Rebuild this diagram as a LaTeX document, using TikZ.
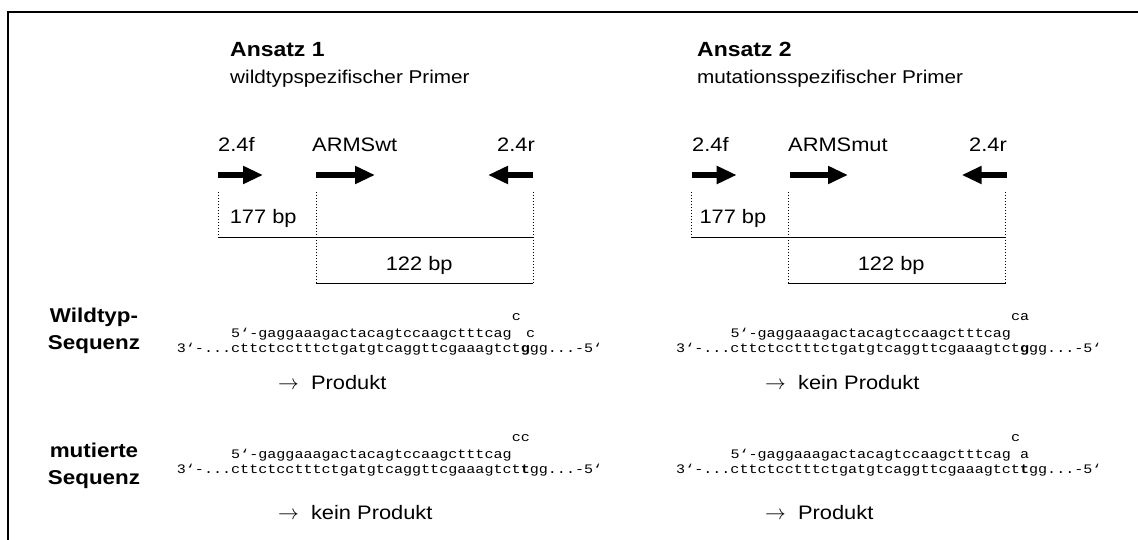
\documentclass[tikz,border=0pt]{standalone}
\usepackage{fontspec}
\setmainfont[FakeStretch=1.12]{Liberation Sans}
\newfontfamily\seqfont[FakeStretch=1.16]{Liberation Mono}
\usetikzlibrary{arrows.meta}
\begin{document}
\begin{tikzpicture}[x=1pt,y=-1pt,
  lbl/.style={inner sep=0, anchor=base west, font=\fontsize{19.5}{23}\selectfont},
  lble/.style={inner sep=0, anchor=base east, font=\fontsize{19.5}{23}\selectfont},
  head/.style={inner sep=0, anchor=base west, font=\bfseries\fontsize{20.5}{24}\selectfont},
  sub/.style={inner sep=0, anchor=base west, font=\fontsize{18.5}{22}\selectfont},
  side/.style={inner sep=0, align=center, font=\bfseries\fontsize{20}{27}\selectfont},
  seq/.style={inner sep=0, anchor=base west, font=\seqfont\fontsize{13}{16}\selectfont},
  res/.style={inner sep=0, anchor=base west, font=\fontsize{19.5}{23}\selectfont},
  primer/.style={line width=6pt, -{Triangle[length=20pt,width=17pt]}},
  dots/.style={dotted, line width=1pt},
  bar/.style={line width=1.3pt}
]
\useasboundingbox (0,0) rectangle (1138,540);
\fill[white] (0,0) rectangle (1138,540);
% frame
\coordinate (fb) at (8,545);
\coordinate (fc) at (8,12);
\coordinate (fr) at (1145,12);
\draw[line width=2.6pt] (fb) -- (fc) -- (fr);

% ---------- headings ----------
\node[head] (a1) at (230,57) {Ansatz 1};
\node[sub]  (s1) at (230,84) {wildtypspezifischer Primer};
\node[head] (a2) at (697,57) {Ansatz 2};
\node[sub]  (s2) at (697,84) {mutationsspezifischer Primer};

% ---------- left scheme ----------
\node[lbl]  (f1) at (218,152) {2.4f};
\node[lbl]  (w1) at (312,152) {ARMSwt};
\node[lble] (r1) at (535,152) {2.4r};
\coordinate (f1s) at (218,175); \coordinate (f1e) at (263,175);
\coordinate (w1s) at (316,175); \coordinate (w1e) at (375,175);
\coordinate (r1s) at (533,175); \coordinate (r1e) at (488,175);
\draw[primer] (f1s) -- (f1e);
\draw[primer] (w1s) -- (w1e);
\draw[primer] (r1s) -- (r1e);
\coordinate (d1a) at (218,192); \coordinate (d1b) at (218,237.3);
\coordinate (d2a) at (316,192); \coordinate (d2b) at (316,283.3);
\coordinate (d3a) at (533,192); \coordinate (d3b) at (533,283.3);
\coordinate (l1e) at (533,237.3); \coordinate (l2s) at (316,283.3);
\draw[dots] (d1a) -- (d1b);
\draw[dots] (d2a) -- (d2b);
\draw[dots] (d3a) -- (d3b);
\draw[bar] (d1b) -- (l1e);
\draw[bar] (l2s) -- (d3b);
\node[lbl] (b1) at (229.6,224) {177 bp};
\node[lbl] (c1) at (385.6,270) {122 bp};

% ---------- right scheme ----------
\node[lbl]  (f2) at (692,152) {2.4f};
\node[lbl]  (w2) at (788,152) {ARMSmut};
\node[lble] (r2) at (1007,152) {2.4r};
\coordinate (f2s) at (691.7,175); \coordinate (f2e) at (736.7,175);
\coordinate (w2s) at (790,175); \coordinate (w2e) at (848,175);
\coordinate (r2s) at (1006.7,175); \coordinate (r2e) at (961.7,175);
\draw[primer] (f2s) -- (f2e);
\draw[primer] (w2s) -- (w2e);
\draw[primer] (r2s) -- (r2e);
\coordinate (e1a) at (691.7,192); \coordinate (e1b) at (691.7,237.3);
\coordinate (e2a) at (788,192); \coordinate (e2b) at (788,283.3);
\coordinate (e3a) at (1005.7,192); \coordinate (e3b) at (1005.7,283.3);
\coordinate (m1e) at (1005.7,237.3); \coordinate (m2s) at (788,283.3);
\draw[dots] (e1a) -- (e1b);
\draw[dots] (e2a) -- (e2b);
\draw[dots] (e3a) -- (e3b);
\draw[bar] (e1b) -- (m1e);
\draw[bar] (m2s) -- (e3b);
\node[lbl] (b2) at (699.3,224) {177 bp};
\node[lbl] (c2) at (857.6,270) {122 bp};

% ---------- side labels ----------
\node[side] (wt) at (94,331) {Wildtyp-\\Sequenz};
\node[side] (mu) at (94,466) {mutierte\\Sequenz};

% ---------- sequences, wild type row (column width 9.05) ----------
\node[seq] (p1c) at (511.6,320) {c};
\node[seq] (p1)  at (231,337) {5‘-gaggaaagactacagtccaagctttcag};
\node[seq] (p1x) at (526,337) {c};
\node[seq] (t1)  at (176.7,352) {3‘-...cttctcctttctgatgtcaggttcgaaagtct\textbf{g}gg...-5‘};
\node[seq] (p2c) at (1010.9,320) {ca};
\node[seq] (p2)  at (730.3,337) {5‘-gaggaaagactacagtccaagctttcag};
\node[seq] (t2)  at (676,352) {3‘-...cttctcctttctgatgtcaggttcgaaagtct\textbf{g}gg...-5‘};

\node[res] (r1a) at (278,389) {$\rightarrow$\ \ Produkt};
\node[res] (r2a) at (765,389) {$\rightarrow$\ \ kein Produkt};

% ---------- sequences, mutant row ----------
\node[seq] (p3c) at (511.6,441) {cc};
\node[seq] (p3)  at (231,458) {5‘-gaggaaagactacagtccaagctttcag};
\node[seq] (t3)  at (176.7,473) {3‘-...cttctcctttctgatgtcaggttcgaaagtct\textbf{t}gg...-5‘};

\node[seq] (p4c) at (1010.9,441) {c};
\node[seq] (p4)  at (730.3,458) {5‘-gaggaaagactacagtccaagctttcag};
\node[seq] (p4x) at (1020,458) {a};
\node[seq] (t4)  at (676,473) {3‘-...cttctcctttctgatgtcaggttcgaaagtct\textbf{t}gg...-5‘};

\node[res] (r3a) at (278,519) {$\rightarrow$\ \ kein Produkt};
\node[res] (r4a) at (765,519) {$\rightarrow$\ \ Produkt};
\end{tikzpicture}
\end{document}
